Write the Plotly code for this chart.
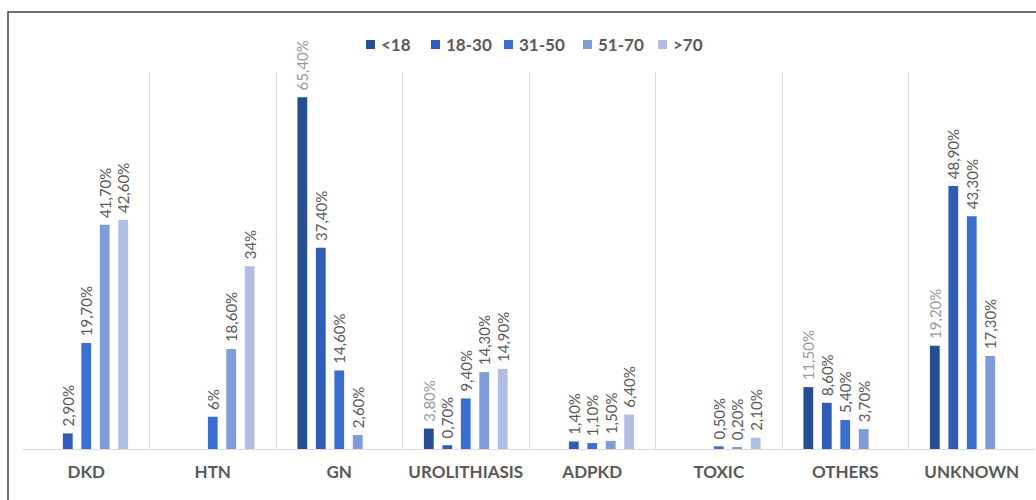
import plotly.graph_objects as go

# Primary kidney disease by age group (% of patients in each age band)
categories = ["DKD", "HTN", "GN", "UROLITHIASIS", "ADPKD", "TOXIC", "OTHERS", "UNKNOWN"]
age_groups = ["<18", "18-30", "31-50", "51-70", ">70"]

under_18 = [None, None, 65.4, 3.8, None, None, 11.5, 19.2]
age_18_30 = [2.9, None, 37.4, 0.7, 1.4, None, 8.6, 48.9]
age_31_50 = [19.7, 6.0, 14.6, 9.4, 1.1, 0.5, 5.4, 43.3]
age_51_70 = [41.7, 18.6, 2.6, 14.3, 1.5, 0.2, 3.7, 17.3]
over_70 = [42.6, 34.0, None, 14.9, 6.4, 2.1, None, None]

series = [under_18, age_18_30, age_31_50, age_51_70, over_70]
colors = ["#264f92", "#2e5cb6", "#3a6fcf", "#7f9bd9", "#b0bde6"]
label_colors = ["#9a9a9a", "#595959", "#595959", "#595959", "#595959"]

FONT = "Lato"
W, H = 1036, 500
M = dict(l=23, r=1, t=72, b=51)
PLOT_W = W - M["l"] - M["r"]
PLOT_H = H - M["t"] - M["b"]


def px_x(px):
    """Pixel column -> paper x."""
    return (px - M["l"]) / PLOT_W


def px_y(py):
    """Pixel row -> paper y."""
    return (H - M["b"] - py) / PLOT_H


def pct_label(v):
    if v is None:
        return ""
    if float(v).is_integer():
        txt = f"{int(v)}%"
    else:
        txt = f"{v:.2f}".replace(".", ",") + "%"
    return "\u00a0" + txt


fig = go.Figure()
for name, vals, col, lcol in zip(age_groups, series, colors, label_colors):
    fig.add_trace(go.Bar(
        name=name,
        x=categories,
        y=vals,
        marker=dict(color=col, line=dict(width=0)),
        text=[pct_label(v) for v in vals],
        textposition="outside",
        textangle=-90,
        constraintext="none",
        cliponaxis=False,
        textfont=dict(family=FONT, size=15, color=lcol),
        showlegend=False,
        hoverinfo="skip",
    ))

# Legend row drawn as swatches + labels
legend_left = [366, 431, 504, 583, 658]
legend_row = 44.5
swatch = 9
shapes = []
annotations = []
for name, col, left in zip(age_groups, colors, legend_left):
    shapes.append(dict(
        type="rect", xref="paper", yref="paper",
        x0=px_x(left), x1=px_x(left + swatch),
        y0=px_y(legend_row + swatch / 2), y1=px_y(legend_row - swatch / 2),
        fillcolor=col, line=dict(width=0),
    ))
    annotations.append(dict(
        xref="paper", yref="paper",
        x=px_x(left + swatch + 4), y=px_y(legend_row),
        xanchor="left", yanchor="middle",
        text=name, showarrow=False,
        font=dict(family=FONT, size=17, color="#595959", weight="bold"),
    ))

# outer frame around the figure
shapes.append(dict(
    type="rect", xref="paper", yref="paper",
    x0=px_x(8), x1=px_x(W + 20), y0=px_y(H + 20), y1=px_y(12),
    line=dict(color="#3f3f3f", width=1.5),
    fillcolor="rgba(0,0,0,0)",
    layer="above",
))

fig.update_layout(
    width=W,
    height=H,
    margin=M,
    paper_bgcolor="white",
    plot_bgcolor="white",
    barmode="group",
    bargap=0.27,
    bargroupgap=0.47,
    showlegend=False,
    font=dict(family=FONT, color="#595959"),
    xaxis=dict(
        type="category",
        tickson="boundaries",
        showgrid=True,
        gridcolor="#dcdcdc",
        gridwidth=1,
        ticks="",
        showline=True,
        linecolor="#d9d9d9",
        linewidth=1,
        tickfont=dict(family=FONT, size=17, color="#595959", weight="bold"),
        ticklabelstandoff=8,
    ),
    yaxis=dict(
        range=[0, 70.1],
        showgrid=False,
        zeroline=False,
        showticklabels=False,
        showline=False,
    ),
    shapes=shapes,
    annotations=annotations,
)

fig.write_html("out.html")
